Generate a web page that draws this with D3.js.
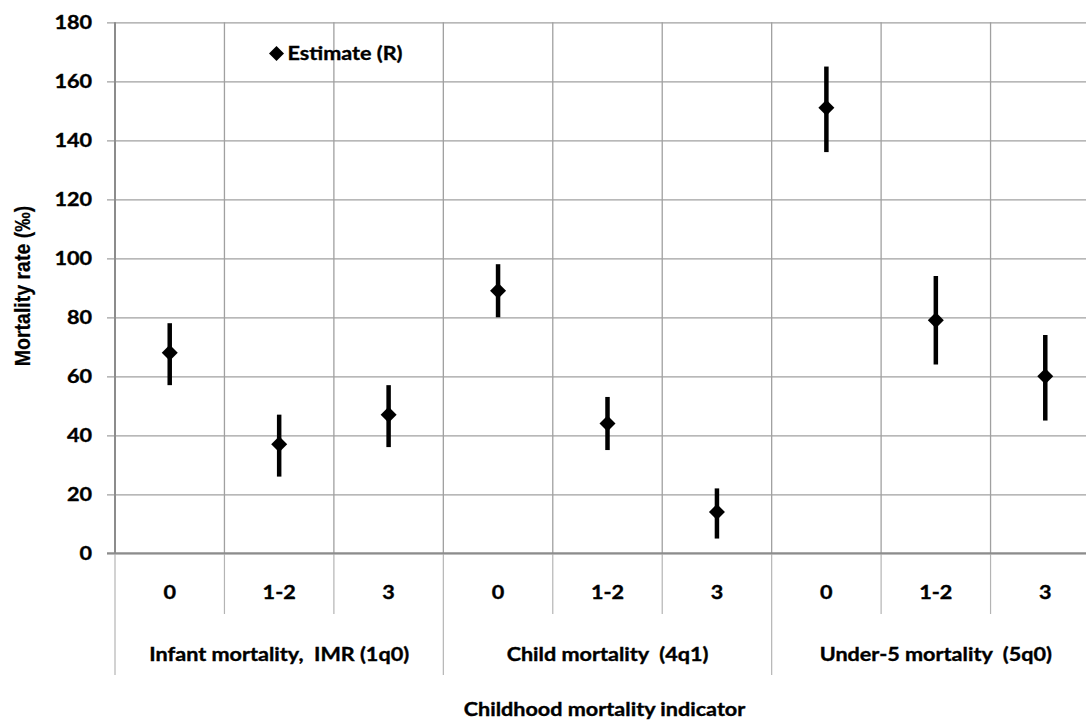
<!DOCTYPE html>
<html>
<head>
<meta charset="utf-8">
<script src="https://cdn.jsdelivr.net/npm/d3@7"></script>
<style>
  html, body { margin: 0; padding: 0; background: #fff; }
  svg { display: block; }
  text { font-family: Lato, "Open Sans", sans-serif; font-weight: 700; fill: #000; stroke: #000; stroke-width: 0.35px; }
</style>
</head>
<body>
<svg id="chart" width="1086" height="720"></svg>
<script>
// Childhood mortality estimates with confidence intervals by birth-order group
const groups = ["Infant mortality,  IMR (1q0)", "Child mortality  (4q1)", "Under-5 mortality  (5q0)"];
const subLabels = ["0", "1-2", "3"];
const estimate = [68, 37, 47, 89, 44, 14, 151, 79, 60];
const lower    = [57, 26, 36, 80, 35, 5, 136, 64, 45];
const upper    = [78, 47, 57, 98, 53, 22, 165, 94, 74];
const yTicks = [0, 20, 40, 60, 80, 100, 120, 140, 160, 180];

const svg = d3.select("#chart");
const plotLeft = 115, plotRight = 1100, plotTop = 22.3, plotBottom = 553.3;
const FS = 18, SX = 1.2;   // label font size and horizontal widening of the type

const cats = d3.range(groups.length * subLabels.length);
const x = d3.scaleBand().domain(cats).range([plotLeft, plotRight]).padding(0);
const y = d3.scaleLinear().domain([0, 180]).range([plotBottom, plotTop]);
const cx = d => x(d) + x.bandwidth() / 2;

// places a widened bold label at (px, py)
function label(g, px, py, str, anchor = "middle", size = FS) {
  return g.append("text")
    .attr("transform", `translate(${px},${py}) scale(${SX},1)`)
    .attr("dy", "0.35em")
    .attr("text-anchor", anchor)
    .attr("font-size", size)
    .style("white-space", "pre")
    .text(str);
}

// horizontal gridlines with left tick marks
const yAxis = d3.axisLeft(y).tickValues(yTicks).tickSize(-(plotRight - plotLeft)).tickSizeOuter(0);
const gy = svg.append("g").attr("transform", `translate(${plotLeft},0)`).call(yAxis);
gy.select(".domain").remove();
gy.selectAll(".tick line").attr("x1", -8).attr("stroke", "#a0a0a0").attr("stroke-width", 1.3);
gy.selectAll(".tick text")
  .attr("x", null).attr("dy", "0.35em")
  .attr("transform", `translate(-23,0) scale(${SX},1)`)
  .attr("font-size", FS).attr("font-family", "Lato").attr("font-weight", 700).attr("fill", "#000");

// vertical category gridlines across the plot
const bounds = cats.map(i => x(i)).concat([plotRight]);
svg.append("g").selectAll("line").data(bounds).join("line")
  .attr("x1", d => d).attr("x2", d => d)
  .attr("y1", plotTop).attr("y2", plotBottom)
  .attr("stroke", "#a0a0a0").attr("stroke-width", 1.3);

// separators below the axis: sub-category and group levels
svg.append("g").selectAll("line").data(bounds).join("line")
  .attr("x1", d => d).attr("x2", d => d)
  .attr("y1", plotBottom)
  .attr("y2", (d, i) => (i % subLabels.length === 0) ? 675 : 614)
  .attr("stroke", "#b4b4b4").attr("stroke-width", 1.2);

// axis lines
svg.append("line").attr("x1", plotLeft - 8).attr("x2", plotRight).attr("y1", plotBottom).attr("y2", plotBottom)
  .attr("stroke", "#8c8c8c").attr("stroke-width", 2);
svg.append("line").attr("x1", plotLeft).attr("x2", plotLeft).attr("y1", plotTop).attr("y2", plotBottom)
  .attr("stroke", "#8c8c8c").attr("stroke-width", 2);

// sub-category labels
const gSub = svg.append("g");
cats.forEach(d => label(gSub, cx(d), 593, subLabels[d % subLabels.length]));

// group labels
const gGrp = svg.append("g");
groups.forEach((g, i) => label(gGrp, (x(i * 3) + x(i * 3 + 2) + x.bandwidth()) / 2, 655, g));

// axis titles
label(svg, (plotLeft + plotRight) / 2 - 3, 710, "Childhood mortality indicator");

svg.append("text")
  .attr("transform", "translate(22,286) rotate(-90) scale(1,1.15)")
  .attr("dy", "0.35em")
  .attr("text-anchor", "middle")
  .attr("font-size", 19.5)
  .style("font-family", "'Liberation Sans', Arial, sans-serif")
  .style("stroke-width", "0.2px")
  .text("Mortality rate (‰)");

// confidence interval bars
svg.append("g").selectAll("line").data(cats).join("line")
  .attr("x1", cx).attr("x2", cx)
  .attr("y1", d => y(lower[d]))
  .attr("y2", d => y(upper[d]))
  .attr("stroke", "#000").attr("stroke-width", 4.5);

// estimate markers
svg.append("g").selectAll("path").data(cats).join("path")
  .attr("d", "M0,-8L8,0L0,8L-8,0Z")
  .attr("transform", d => `translate(${cx(d)},${y(estimate[d])})`)
  .attr("fill", "#000");

// legend
const lg = svg.append("g").attr("transform", "translate(276.5,53.5)");
lg.append("path").attr("d", "M0,-7.5L7.5,0L0,7.5L-7.5,0Z").attr("fill", "#000");
label(lg, 11, 0, "Estimate (R)", "start");
</script>
</body>
</html>
